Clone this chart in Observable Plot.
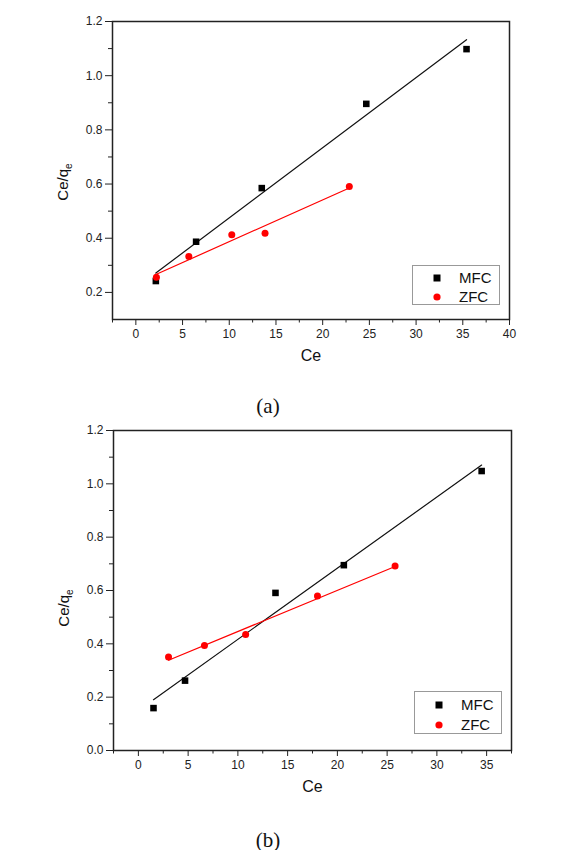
<!DOCTYPE html>
<html>
<head>
<meta charset="utf-8">
<script src="https://cdn.jsdelivr.net/npm/d3@7"></script>
<script src="https://cdn.jsdelivr.net/npm/@observablehq/plot@0.6"></script>
<style>
  body { margin: 0; background: #fff; }
  #root { position: relative; width: 584px; height: 850px; overflow: hidden; font-family: "Liberation Sans", Arial, sans-serif; }
  .panel { position: absolute; left: 0; }
  .caption { position: absolute; font-family: "Liberation Serif", "Times New Roman", serif; font-size: 21px; color: #111; transform: translate(-50%, -50%); white-space: nowrap; }
  .legend { position: absolute; border: 1px solid #999; background: #fff; box-sizing: border-box; }
  .legend .item { position: absolute; left: 0; width: 100%; height: 18px; transform: translateY(-50%); }
  .legend .sw { position: absolute; left: 19px; top: 4px; width: 10px; height: 10px; }
  .legend .lbl { position: absolute; left: 46px; top: 0; line-height: 18px; font-size: 15px; color: #111; }
</style>
</head>
<body>
<div id="root"></div>
<script>
// ---- Data ----
const seriesNames = ["MFC", "ZFC"];
const seriesColors = ["#000000", "#ff0000"];

// Panel (a)
const aMfcX = [2.14, 6.45, 13.48, 24.67, 35.4];
const aMfcY = [0.242, 0.387, 0.585, 0.896, 1.098];
const aZfcX = [2.2, 5.67, 10.27, 13.83, 22.85];
const aZfcY = [0.256, 0.333, 0.413, 0.418, 0.591];

// Panel (b)
const bMfcX = [1.52, 4.69, 13.78, 20.65, 34.5];
const bMfcY = [0.159, 0.262, 0.591, 0.695, 1.048];
const bZfcX = [3.03, 6.64, 10.78, 18.0, 25.8];
const bZfcY = [0.351, 0.394, 0.435, 0.579, 0.692];

// Ticks
const aXMajor = [0, 5, 10, 15, 20, 25, 30, 35, 40];
const aXMinor = [-2.5, 2.5, 7.5, 12.5, 17.5, 22.5, 27.5, 32.5, 37.5];
const aYMajor = [0.2, 0.4, 0.6, 0.8, 1.0, 1.2];
const aYMinor = [0.3, 0.5, 0.7, 0.9, 1.1];
const bXMajor = [0, 5, 10, 15, 20, 25, 30, 35];
const bXMinor = [-2.5, 2.5, 7.5, 12.5, 17.5, 22.5, 27.5, 32.5, 37.5];
const bYMajor = [0.0, 0.2, 0.4, 0.6, 0.8, 1.0, 1.2];
const bYMinor = [0.1, 0.3, 0.5, 0.7, 0.9, 1.1];

const xLabel = "Ce";
const captions = ["(a)", "(b)"];

const toRows = (xs, ys) => xs.map((x, i) => ({x, y: ys[i]}));

function panel(cfg) {
  const mfc = toRows(cfg.mfcX, cfg.mfcY);
  const zfc = toRows(cfg.zfcX, cfg.zfcY);
  const svg = Plot.plot({
    width: 584,
    height: cfg.height,
    marginTop: cfg.mt, marginBottom: cfg.mb, marginLeft: cfg.ml, marginRight: cfg.mr,
    style: {fontFamily: '"Liberation Sans", Arial, sans-serif', fontSize: "12px", color: "#222", background: "transparent", overflow: "visible"},
    x: {domain: cfg.xDomain, label: null},
    y: {domain: cfg.yDomain, label: null},
    marks: [
      Plot.axisX({ticks: cfg.xMajor, tickSize: 6, tickPadding: 4, tickFormat: d => String(d), label: null, fontSize: 12}),
      Plot.axisX({ticks: cfg.xMinor, tickSize: 3.5, text: null, label: null}),
      Plot.axisY({ticks: cfg.yMajor, tickSize: 7, tickPadding: 3, tickFormat: d3.format(".1f"), label: null, fontSize: 12}),
      Plot.axisY({ticks: cfg.yMinor, tickSize: 4, text: null, label: null}),
      Plot.frame({stroke: "#222", strokeWidth: 1.5}),
      Plot.linearRegressionY(mfc, {x: "x", y: "y", stroke: "#111", strokeWidth: 1.2, ci: 0}),
      Plot.linearRegressionY(zfc, {x: "x", y: "y", stroke: seriesColors[1], strokeWidth: 1.2, ci: 0}),
      Plot.dot(mfc, {x: "x", y: "y", symbol: "square", r: 3.7, fill: seriesColors[0]}),
      Plot.dot(zfc, {x: "x", y: "y", symbol: "circle", r: 3.5, fill: seriesColors[1]}),
      Plot.text([xLabel], {text: d => d, frameAnchor: "bottom", dy: 41, fontSize: 16, fill: "#111"})
    ]
  });
  // y-axis title with subscript
  const t = d3.select(svg).append("text")
    .attr("transform", `translate(${cfg.ylx},${cfg.yly}) rotate(-90)`)
    .attr("text-anchor", "middle")
    .attr("font-size", 15)
    .attr("fill", "#111")
    .attr("font-family", '"Liberation Sans", Arial, sans-serif');
  t.append("tspan").text("Ce/q");
  t.append("tspan").attr("font-size", 10).attr("dy", 4).text("e");
  svg.classList.add("panel");
  svg.style.top = cfg.top + "px";
  return svg;
}

function legend(left, top, w, h, rowYs) {
  const div = document.createElement("div");
  div.className = "legend";
  div.style.left = left + "px"; div.style.top = top + "px";
  div.style.width = w + "px"; div.style.height = h + "px";
  seriesNames.forEach((name, i) => {
    const item = document.createElement("div");
    item.className = "item";
    item.style.top = rowYs[i] + "px";
    const sw = document.createElementNS("http://www.w3.org/2000/svg", "svg");
    sw.setAttribute("class", "sw");
    sw.setAttribute("width", 10); sw.setAttribute("height", 10);
    if (i === 0) {
      const r = document.createElementNS("http://www.w3.org/2000/svg", "rect");
      r.setAttribute("x", 1.5); r.setAttribute("y", 1.5); r.setAttribute("width", 7); r.setAttribute("height", 7);
      r.setAttribute("fill", seriesColors[0]); sw.appendChild(r);
    } else {
      const c = document.createElementNS("http://www.w3.org/2000/svg", "circle");
      c.setAttribute("cx", 5); c.setAttribute("cy", 5); c.setAttribute("r", 3.6);
      c.setAttribute("fill", seriesColors[1]); sw.appendChild(c);
    }
    const lbl = document.createElement("span");
    lbl.className = "lbl"; lbl.textContent = name;
    item.appendChild(sw); item.appendChild(lbl);
    div.appendChild(item);
  });
  return div;
}

function caption(text, cx, cy) {
  const d = document.createElement("div");
  d.className = "caption"; d.textContent = text;
  d.style.left = cx + "px"; d.style.top = cy + "px";
  return d;
}

const root = document.getElementById("root");
root.appendChild(panel({
  top: 0, height: 380, mt: 21, mb: 61, ml: 112, mr: 75,
  xDomain: [-2.5, 40], yDomain: [0.1, 1.2],
  xMajor: aXMajor, xMinor: aXMinor, yMajor: aYMajor, yMinor: aYMinor,
  mfcX: aMfcX, mfcY: aMfcY, zfcX: aZfcX, zfcY: aZfcY,
  ylx: 68, yly: 182
}));
root.appendChild(panel({
  top: 410, height: 400, mt: 20, mb: 60, ml: 113, mr: 73,
  xDomain: [-2.5, 37.5], yDomain: [0, 1.2],
  xMajor: bXMajor, xMinor: bXMinor, yMajor: bYMajor, yMinor: bYMinor,
  mfcX: bMfcX, mfcY: bMfcY, zfcX: bZfcX, zfcY: bZfcY,
  ylx: 69, yly: 198
}));
root.appendChild(legend(412, 265, 88, 40, [12, 31]));
root.appendChild(legend(414, 691, 88, 43, [13, 33]));
root.appendChild(caption(captions[0], 268, 406));
root.appendChild(caption(captions[1], 268, 840));
</script>
</body>
</html>
